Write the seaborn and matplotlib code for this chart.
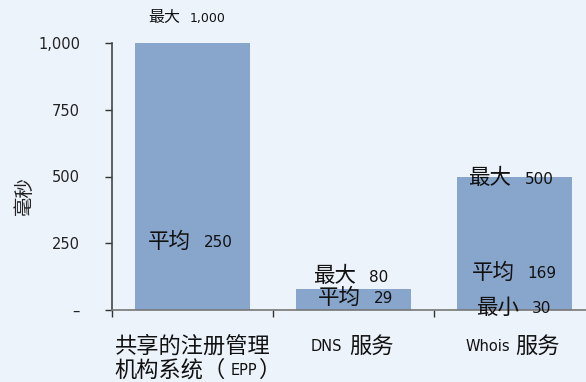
import matplotlib
matplotlib.use("Agg")
import matplotlib.pyplot as plt
import seaborn as sns
import pandas as pd
from matplotlib.ticker import FixedLocator

categories = ["共享的注册管理机构系统（EPP）", "DNS 服务", "Whois 服务"]
max_vals = [1000, 80, 500]
avg_vals = [250, 29, 169]
min_vals = [None, None, 30]
y_ticks = [0, 250, 500, 750, 1000]
y_tick_labels = ["–", "250", "500", "750", "1,000"]
y_label = "毫秒"

sns.set_theme(style="white")
plt.rcParams["font.family"] = ["DejaVu Sans", "Noto Sans CJK SC"]

BG = "#EDF3FB"
BAR = "#88A5CB"
TXT = "#111111"
CJK = ["Noto Sans CJK SC", "DejaVu Sans"]
LAT = ["DejaVu Sans"]

fig = plt.figure(figsize=(5.86, 3.82), dpi=100, facecolor=BG)
ax = fig.add_axes([112 / 586, 72 / 382, 483 / 586, 267 / 382])
ax.set_facecolor("none")

df = pd.DataFrame({"cat": categories, "max": max_vals})
sns.barplot(data=df, x="cat", y="max", color=BAR, saturation=1, width=0.715,
            linewidth=0, edgecolor=BAR, ax=ax)

ax.set_xlim(-0.5, 2.5)
ax.set_ylim(0, 1000)
ax.set_yticks(y_ticks)
ax.set_yticklabels(y_tick_labels, fontsize=10.5, color="#222222", family=LAT)
ax.tick_params(axis="y", length=5, width=1, color="#333333", direction="out", pad=18, left=True)
ax.set_xticks(range(len(categories)))
ax.set_xticklabels([])
ax.tick_params(axis="x", which="major", length=0)
ax.xaxis.set_minor_locator(FixedLocator([-0.5, 0.5, 1.5]))
ax.tick_params(axis="x", which="minor", length=5, width=1, color="#333333", direction="out", bottom=True)
ax.set_xlabel("")
ax.set_ylabel(y_label, fontsize=14, family=CJK, color="#222222")
ax.yaxis.set_label_coords((35 - 112) / 483, 0.43)

for s in ["top", "right"]:
    ax.spines[s].set_visible(False)
ax.spines["left"].set_color("#444444")
ax.spines["bottom"].set_color("#777777")
ax.spines["left"].set_linewidth(1.2)
ax.spines["bottom"].set_linewidth(1.2)

xt = ax.get_xaxis_transform()


def piece(x, y, s, dx, ha, size, fam, coords, dy=0):
    return ax.annotate(s, (x, y), xycoords=coords, xytext=(dx, dy), textcoords="offset pixels",
                       ha=ha, va="center", fontsize=size, family=fam, color=TXT,
                       annotation_clip=False)


# category labels: CJK part large, Latin part small
piece(0, -0.135, "共享的注册管理", 0, "center", 16, CJK, xt)
piece(0, -0.225, "机构系统（", 33, "right", 16, CJK, xt)
piece(0, -0.225, "EPP", 51, "center", 10.5, LAT, xt)
piece(0, -0.225, "）", 67, "left", 16, CJK, xt)
piece(1, -0.135, "DNS", -11, "right", 10.5, LAT, xt)
piece(1, -0.135, "服务", -4, "left", 16, CJK, xt)
piece(2, -0.135, "Whois", -4, "right", 10.5, LAT, xt)
piece(2, -0.135, "服务", 1, "left", 16, CJK, xt)


def label(x, y, word, val, cjk_size=15.5, num_size=11, gap=6.5):
    piece(x, y, word, -gap, "right", cjk_size, CJK, "data")
    piece(x, y, f"{val:,}", gap, "left", num_size, LAT, "data", dy=-1)


# EPP
label(-0.047, max_vals[0] + 97, "最大", max_vals[0], cjk_size=11.5, num_size=9, gap=5)
label(0.028, avg_vals[0] + 5, "平均", avg_vals[0])
# DNS
label(1.059, max_vals[1] + 47, "最大", max_vals[1])
label(1.084, avg_vals[1] + 16, "平均", avg_vals[1])
# Whois
label(2.022, max_vals[2] - 6, "最大", max_vals[2])
label(2.04, avg_vals[2] - 30, "平均", avg_vals[2])
label(2.07, min_vals[2] - 22, "最小", min_vals[2])

fig.savefig("out.png", dpi=100, facecolor=BG)
